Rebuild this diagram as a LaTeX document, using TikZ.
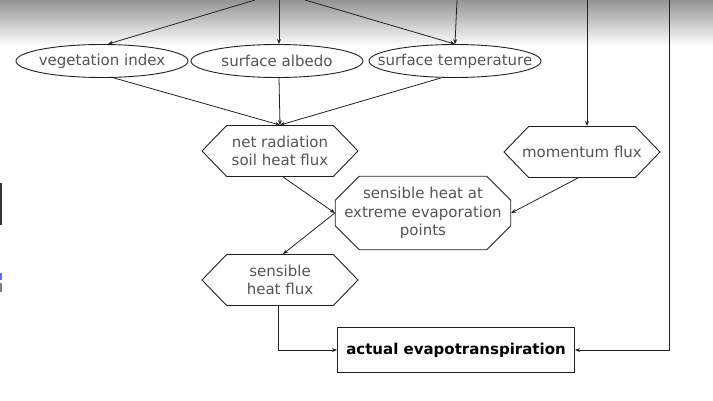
\documentclass[tikz,border=0pt]{standalone}
\usepackage{fontspec}
\setmainfont{DejaVu Sans}
\usetikzlibrary{shapes.geometric,shapes.symbols,shapes.misc,arrows.meta}
\definecolor{txt}{HTML}{555555}
\definecolor{ln}{HTML}{222222}
\tikzset{
  base/.style={draw=ln, line width=0.9pt, text=txt, font=\fontsize{15}{18.5}\selectfont, align=center, inner sep=0pt},
  ell/.style={base, ellipse, inner xsep=-40pt, inner ysep=0pt, minimum width=172pt, minimum height=33pt},
  hexa/.style={base, signal, signal to=west and east, signal pointer angle=92, inner xsep=-8pt, minimum width=156pt, minimum height=51pt},
  octa/.style={base, chamfered rectangle, chamfered rectangle xsep=13pt, chamfered rectangle ysep=11pt, inner xsep=-4pt, minimum width=173pt, minimum height=67pt},
  boxx/.style={base, rectangle, minimum width=237pt, minimum height=45pt, text=black},
  conn/.style={draw=ln, line width=0.8pt, -{Stealth[length=5pt,width=4pt]}}
}
\begin{document}
\begin{tikzpicture}[x=1pt,y=-1pt]
\useasboundingbox (0,0) rectangle (713,401);
\fill[white] (0,0) rectangle (713,401);
\shade[top color=black!42, bottom color=white] (0,0) rectangle (713,46);
\fill[black!80] (0,183) rectangle (2,225);
\fill[blue!60] (0,273) rectangle (2,280);
\fill[black!50] (0,283) rectangle (2,292);

\node[ell] (veg) at (102,61) {vegetation index};
\node[ell] (alb) at (277,61) {surface albedo};
\node[ell] (tmp) at (455,61) {surface temperature};

\node[hexa] (net) at (280,151) {net radiation\\soil heat flux};
\node[hexa] (mom) at (582,152) {momentum flux};
\node[octa] (sh) at (423,213) {sensible heat at\\extreme evaporation\\points};
\node[hexa] (shf) at (280,280) {sensible\\heat flux};
\node[boxx] (aet) at (456,350) {\bfseries actual evapotranspiration};

\coordinate (t1) at (255,0);
\coordinate (t2) at (279,0);
\coordinate (t3) at (305,0);
\coordinate (t4) at (457,0);
\coordinate (t5) at (587,0);
\coordinate (t6) at (669,0);

\draw[conn] (t1) -- ([xshift=6pt]veg.north);
\draw[conn] (t2) -- (t2 |- alb.north);
\draw[conn] (t3) -- (tmp.north);
\draw[conn] (t4) -- (tmp.north);
\draw[conn] (t5) -- (t5 |- mom.north);
\draw[conn] (t6) |- (aet.east);

\draw[conn] ([xshift=12pt]veg.south) -- (net.north);
\draw[conn] ([xshift=2pt]alb.south) -- (net.north);
\draw[conn] ([xshift=-14pt]tmp.south) -- (net.north);

\draw[conn] ([xshift=3pt]net.south) -- (sh.west);
\draw[conn] ([xshift=-4pt]mom.south) -- (sh.east);
\draw[conn] (sh.west) -- ([xshift=3pt]shf.north);
\draw[conn] ([xshift=-2pt]shf.south) |- (aet.west);
\end{tikzpicture}
\end{document}
